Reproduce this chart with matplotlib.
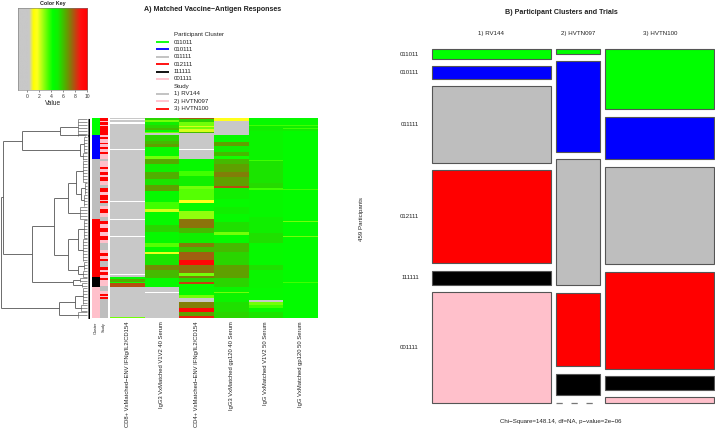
import numpy as np
import matplotlib
matplotlib.use("Agg")
import matplotlib.pyplot as plt
from matplotlib.colors import LinearSegmentedColormap, ListedColormap, Normalize
from matplotlib.collections import LineCollection
from matplotlib.patches import Rectangle

plt.rcParams['font.family'] = ['Liberation Sans', 'DejaVu Sans']

# ---------- data ----------
marker_labels = ["CD8+ VxMatched\u2212ENV IFNg/IL2/CD154", "IgG3 VxMatched V1V2 40 Serum",
                 "CD4+ VxMatched\u2212ENV IFNg/IL2/CD154", "IgG3 VxMatched gp120 40 Serum",
                 "IgG VxMatched V1V2 50 Serum", "IgG VxMatched gp120 50 Serum"]
cluster_names = ["011011", "010111", "011111", "012111", "111111", "001111"]
cluster_colors = ["#00ff00", "#0000ff", "#bebebe", "#ff0000", "#000000", "#ffc0cb"]
study_names = ["1) RV144", "2) HVTN097", "3) HVTN100"]
study_colors = ["#bebebe", "#ffc0cb", "#ff0000"]

# mosaic counts: rows = clusters, one list per study
rv144_counts = [6, 8, 49, 59, 9, 70]
hvtn097_counts = [1, 21, 29, 17, 5, 0]
hvtn100_counts = [35, 25, 57, 57, 8, 3]

# heatmap columns as (value, row count) runs; nan = missing, -1 = no response
NA = float('nan')
c1_vals = [0, NA, -1, NA, -1, 0, -1, 0, -1, NA, -1, 0, -1, NA, -1, NA, -1, NA, -1, NA, -1, 4.5, 6.3, 4, 7.8, -1, 3]
c1_rows = [2, 1, 2, 2, 3, 2, 2, 1, 17, 1, 36, 4, 11, 1, 16, 1, 16, 1, 37, 1, 2, 2, 3, 1, 4, 30, 1]
c2_vals = [5.5, 3, 5, 5.5, 6, 4.5, 3, -1, 5.5, 6, 6.5, 4.5, 3, 6.3, 5, 6.2, 5.2, 6.5, 4.5, 3.5, 2, 4.5,
           5.5, 4.5, 3.3, 4.5, 1.8, 5.2, 6.8, 6, 4.5, -1, NA, -1]
c2_rows = [3, 2, 3, 3, 2, 2, 1, 2, 6, 3, 3, 9, 3, 5, 8, 7, 6, 6, 11, 7, 3, 12,
           7, 11, 4, 5, 2, 11, 5, 8, 9, 5, 1, 25]
c3_vals = [7.5, 5.5, 3, 2, 3, 2, 6, -1, NA, -1, 4.5, 3.5, 5, 3, 3.3, 1.5, 4.5, 2.7, 7.2, 6, 5, 7, 6, 7.5,
           9.5, 7.2, 3, 7, 5.5, 8, 4.5, 3, 0, 7, 9.5, 6.5, 8.5]
c3_rows = [2, 3, 4, 1, 2, 3, 1, 16, 1, 9, 12, 5, 10, 3, 11, 3, 8, 7, 9, 5, 10, 4, 5, 8,
           5, 8, 3, 2, 4, 2, 11, 3, 4, 6, 4, 4, 2]
c4_vals = [2.5, 1.5, -1, 4.5, 6.5, 5, 6, 4, 6, 6.5, 7, 6.5, 7.8, 5, 4.5, 5, 4.5, 5.3, 3, 4.5, 6, 5.5,
           6.5, 5.5, 4.7, 3, 4.8, 5.3, 5.5]
c4_rows = [1, 3, 14, 7, 4, 6, 4, 3, 5, 8, 5, 9, 2, 11, 8, 7, 7, 10, 3, 8, 9, 13,
           13, 9, 5, 1, 9, 10, 6]
c5_vals = [4.5, 3.5, 5, 4.7, 3.5, 5.2, 5.4, 3.5, 4.6, 5, 5.3, 4.5, 5.3, 4.7, 4.5, 0.3, 3, 3.5, 4.5, 5.2]
c5_rows = [8, 1, 5, 29, 1, 22, 5, 2, 27, 15, 10, 22, 5, 18, 12, 2, 3, 3, 4, 6]
c6_vals = [4.5, 3.5, 5, 3.5, 5, 4.4, 3.5, 4.4, 3, 4.4, 3, 4.4, 3.5, 4.4]
c6_rows = [8, 1, 2, 1, 2, 58, 1, 30, 1, 14, 1, 45, 1, 35]

# colour sidebars as runs: 0,1,2 = study index
study_vals = [2, 1, 2, 1, 2, 1, 2, 1, 2, 1, 2, 1, 2, 1, 0, 1, 2, 1, 2, 1, 2, 1, 0, 2, 1, 2, 1, 2, 0, 1, 2, 1, 0, 2, 1, 2, 1,
              2, 1, 0, 1, 2, 1, 2, 0, 2, 1, 2, 1, 2, 1, 0, 1, 2, 1, 2, 0]
study_rows = [4, 1, 3, 1, 9, 2, 2, 4, 1, 3, 2, 3, 2, 5, 2, 6, 2, 3, 3, 2, 4, 4, 3, 4, 3, 5, 1, 2, 3, 3, 4, 4, 3, 3, 4, 4, 4,
              4, 3, 7, 3, 3, 3, 2, 6, 3, 2, 3, 3, 2, 6, 5, 3, 2, 1, 2, 19]
cluster_rows = [18, 24, 59, 58, 10, 31]

# dendrogram: (x, [children]) for a merge or (x, first_row, last_row) for a leaf group
tree = (0.5, [
    (3.3, [
        (21.5, [
            (60, [(78, 0, 18), (85, 16, 18)]),
            (80, [(84, 18, 34), (83, 34, 42)]),
        ]),
        (32, [
            (54, [
                (68, [(76, [(83, 42, 64), (81, [(85, 64, 76), (84, 76, 88)])]), (80, 88, 101)]),
                (68, [(78, [(84, 101, 120), (83, 120, 143)]), (78, [(84, 143, 152), (83, 152, 159)])]),
            ]),
            (73, [(80, 159, 164), (82, 164, 169)]),
        ]),
    ]),
    (59, [(75, [(83, 169, 186), (81, 186, 193)]), (78, 193, 200)]),
])

key_ticks = [0, 2, 4, 6, 8, 10]
key_min, key_max = -1.55, 10.0

# ---------- helpers ----------
W, H = 715, 432
fig = plt.figure(figsize=(W / 100, H / 100), dpi=100, facecolor='white')

def axpx(x0, y0, x1, y1):
    return fig.add_axes([x0 / W, 1 - y1 / H, (x1 - x0) / W, (y1 - y0) / H])

def ftext(x, y, s, **kw):
    kw.setdefault('ha', 'center')
    kw.setdefault('va', 'center')
    kw.setdefault('color', '#222222')
    fig.text(x / W, 1 - y / H, s, **kw)

stops = [(-1.55, '#c8c8c8'), (0.3, '#c8c8c8'), (1.0, '#ffff00'), (1.6, '#ffff20'), (3.5, '#40ff00'),
         (4.2, '#00ff00'), (5.0, '#10f000'), (6.5, '#60a000'), (7.5, '#a06010'), (8.8, '#ff1010'), (10, '#ff0000')]
cmap = LinearSegmentedColormap.from_list(
    'key', [((v - key_min) / (key_max - key_min), c) for v, c in stops], N=512)
cmap.set_bad('white')
norm = Normalize(key_min, key_max)

# ---------- colour key ----------
ax = axpx(18, 7.5, 87.3, 90)
ax.imshow(np.linspace(key_min, key_max, 300)[None, :], cmap=cmap, norm=norm, aspect='auto',
          extent=[key_min, key_max, 0, 1])
ax.set_yticks([])
ax.set_xticks(key_ticks)
ax.tick_params(axis='x', labelsize=3.6, length=1.5, width=0.4, pad=1.2, colors='#333333')
for s in ax.spines.values():
    s.set_linewidth(0.4)
    s.set_color('#777777')
ftext(53, 3, "Color Key", fontsize=3.9, fontweight='bold')
ftext(53, 103.5, "Value", fontsize=4.7)

# ---------- titles and legend ----------
ftext(213, 9.5, "A) Matched Vaccine\u2212Antigen Responses", fontsize=5.1, fontweight='bold')
ftext(561, 12, "B) Participant Clusters and Trials", fontsize=5.1, fontweight='bold')

leg = axpx(150, 30, 230, 115)
leg.set_xlim(150, 230)
leg.set_ylim(115, 30)
leg.axis('off')
rows = [("Participant Cluster", None)] + list(zip(cluster_names, cluster_colors)) + \
       [("Study", None)] + list(zip(study_names, study_colors))
ys = np.linspace(34.7, 108.5, len(rows))
for yy, (lab, col) in zip(ys, rows):
    if col:
        leg.plot([156, 169], [yy, yy], color=col, lw=1.3, solid_capstyle='butt')
    leg.text(173.7, yy, lab, fontsize=4.4, va='center', ha='left', color='#222222')

# ---------- dendrogram ----------
segs_g, segs_m, segs_k = [], [], []
def draw(node):
    if isinstance(node[1], list):
        x, kids = node
        pos = []
        for k in kids:
            kx, ky = draw(k)
            segs_g.append([(x, ky), (kx, ky)])
            pos.append(ky)
        segs_g.append([(x, min(pos)), (x, max(pos))])
        return x, float(np.mean(pos))
    x, r0, r1 = node
    segs_m.append([(x, r0 + 0.5), (x, r1 - 0.5)])
    for r in range(r0, r1, 3):
        segs_m.append([(x, r + 1), (87, r + 1)])
    for r in range(r0, r1):
        segs_k.append([(87.5, r + 0.5), (90, r + 0.5)])
    return x, (r0 + r1) / 2
rx, ry = draw(tree)
ax = axpx(0, 118, 90, 318.5)
ax.set_xlim(0, 90)
ax.set_ylim(200, 0)
ax.axis('off')
ax.add_collection(LineCollection(segs_g, colors='#555555', linewidths=0.6))
ax.add_collection(LineCollection(segs_m, colors='#444444', linewidths=0.4))
ax.add_collection(LineCollection(segs_k, colors='#000000', linewidths=0.8))

# ---------- side bars ----------
ax = axpx(92, 118, 99.7, 318.5)
side = np.repeat(np.arange(len(cluster_rows)), cluster_rows)[:, None]
ax.imshow(side, cmap=ListedColormap(cluster_colors), aspect='auto', interpolation='nearest')
ax.axis('off')
ax = axpx(100, 118, 107.7, 318.5)
side = np.repeat(study_vals, study_rows)[:, None]
ax.imshow(side, cmap=ListedColormap(study_colors), vmin=0, vmax=2, aspect='auto', interpolation='nearest')
ax.axis('off')
ftext(96, 322, "Cluster", fontsize=2.8, rotation=90, va='top')
ftext(104, 322, "Study", fontsize=2.8, rotation=90, va='top')

# ---------- heatmap ----------
cols = [(c1_vals, c1_rows), (c2_vals, c2_rows), (c3_vals, c3_rows),
        (c4_vals, c4_rows), (c5_vals, c5_rows), (c6_vals, c6_rows)]
mat = np.array([np.repeat(np.array(v, float), r) for v, r in cols]).T
ax = axpx(110, 118, 318, 318.5)
ax.imshow(mat, cmap=cmap, norm=norm, aspect='auto', interpolation='nearest')
ax.axis('off')
centers = [127.4, 162, 196.8, 231.5, 266, 300.8]
for cx, lab in zip(centers, marker_labels):
    ftext(cx, 321.5, lab, fontsize=4.2, rotation=90, va='top')
ftext(362, 219, "459 Participants", fontsize=4.4, rotation=90)

# ---------- mosaic ----------
ax = axpx(432, 49.3, 714.5, 402.5)
ax.axis('off')
counts = [rv144_counts, hvtn097_counts, hvtn100_counts]
totals = [sum(c) for c in counts]
gapx, gapy = 9.5, 0.0226
ax.set_xlim(0, sum(totals) + 2 * gapx)
ax.set_ylim(1 + 5 * gapy, 0)
left = 0
for col_counts, tot, name in zip(counts, totals, study_names):
    top = 0
    for i, cnt in enumerate(col_counts):
        h = cnt / tot
        if cnt == 0:
            ax.plot([left, left + tot], [top, top], color='#777777', lw=0.9, ls=(0, (5, 7)), clip_on=False)
        else:
            ax.add_patch(Rectangle((left, top), tot, h, facecolor=cluster_colors[i], edgecolor='#555555',
                                   lw=0.8, clip_on=False))
        top += h + gapy
    ftext(432 + (left + tot / 2) * (282.5 / (sum(totals) + 2 * gapx)), 33, name, fontsize=4.4)
    left += tot + gapx
# row labels at the first study's box centres
top = 0
for i, cnt in enumerate(rv144_counts):
    h = cnt / totals[0]
    ftext(419, 49.3 + (top + h / 2) * 353.2 / (1 + 5 * gapy), cluster_names[i], fontsize=4.4, ha='right')
    top += h + gapy
ftext(561, 422, "Chi\u2212Square=148.14, df=NA, p\u2212value=2e\u221206", fontsize=4.45)

fig.savefig('out.png', dpi=100)
